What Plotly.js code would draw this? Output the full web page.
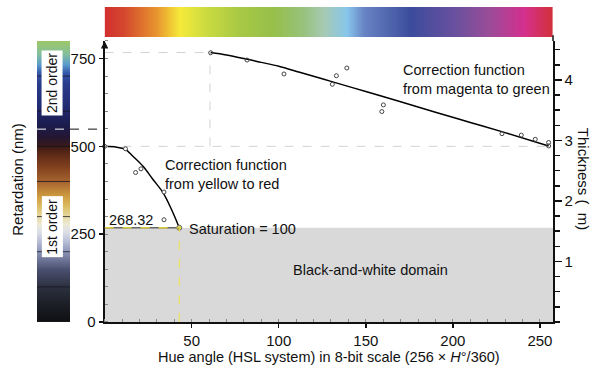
<!DOCTYPE html>
<html>
<head>
<meta charset="utf-8">
<script src="https://cdn.plot.ly/plotly-3.0.1.min.js"></script>
<style>html,body{margin:0;padding:0;background:#fff}#chart{width:600px;height:367px}</style>
</head>
<body>
<div id="chart"></div>
<script>
// ---- data ----
// magenta -> green measurements
var upperX = [60.9, 81.8, 103, 130.8, 133.1, 139.1, 160.1, 159.2, 228.2, 239.3, 247.3, 255, 255];
var upperY = [766.5, 745.7, 706, 676.7, 701, 723, 618, 599, 536, 532, 520, 511, 501];
// magenta -> green correction curve
var upperFitX = [60.9, 70, 80, 90, 100, 112, 130, 150, 170, 190, 210, 230, 255];
var upperFitY = [767, 760, 750, 739, 728, 711, 685, 656, 627, 597, 568, 539, 501];
// yellow -> red measurements
var lowerX = [0, 12, 17.8, 20.9, 34.1, 34.1];
var lowerY = [500, 493, 425.6, 436, 370, 291];
// yellow -> red correction curve
var lowerFitX = [0, 6.9, 11.7, 16.4, 22.2, 27.9, 33.7, 38.5, 42.9];
var lowerFitY = [500, 497.7, 492, 471, 442.6, 405, 367, 319.6, 268.32];
// saturation point
var satX = [42.9];
var satY = [268.32];
var bwLimit = 268.32;
var magentaStart = [60.5, 767];
var levelGrid = 500;
var orderBoundary = 549;

// tick labels
var xTickVals = [50, 100, 150, 200, 250];
var yTickVals = [0, 250, 500, 750];
var thickTickVals = [1, 2, 3, 4];
var xRange = [0, 257.5];
var yRange = [0, 800];
var thickRange = [0, 4.645];

// hue bar (top)
var hueX = [0, 10.7, 29.9, 43, 58.6, 77.8, 96.9, 114, 125.6, 139, 148.6, 175.5, 202.3, 221, 240.6, 257.5];
var hueColors = ['#d2302e','#d4482e','#e8962e','#f6ea3a','#cadb40','#a8c844','#96c04a','#98c27e','#a6cab4','#88c6ec','#6884c4','#3c4c9c','#6c509e','#9c4c98','#d4308e','#d2303a'];

// Michel-Levy retardation bar (left)
var mlR = [0, 50, 100, 150, 200, 230, 255, 280, 300, 330, 360, 400, 440, 480, 500, 525, 560, 620, 680, 710, 735, 765, 800];
var mlColors = ['#0f0f12','#1c1e26','#2c303e','#4a5070','#8a92b6','#b8bed6','#dcdee8','#ece9d6','#e8dcaa','#dcbc62','#cf9c40','#a86630','#82421f','#5a2816','#3a1a16','#261630','#1c1c4c','#222c74','#2a3c8c','#3354a8','#5a9ccc','#86c09a','#9cc66a'];
var mlLines = [100, 200, 300, 400, 500, 600, 700];

// ---- build ----
var hueScale = hueX.map(function(v, i){ return [v / hueX[hueX.length-1], hueColors[i]]; });
var mlScale = mlR.map(function(v, i){ return [v / mlR[mlR.length-1], mlColors[i]]; });

var font = 'Liberation Sans, Arial, Helvetica, sans-serif';

var traces = [
  {type:'heatmap', x: hueX, y:[0,1], z:[hueX, hueX], xaxis:'x', yaxis:'y3',
   colorscale: hueScale, zmin: hueX[0], zmax: hueX[hueX.length-1], zsmooth:'best', showscale:false, hoverinfo:'skip'},
  {type:'heatmap', x:[0,1], y: mlR, z: mlR.map(function(v){return [v, v];}), xaxis:'x2', yaxis:'y',
   colorscale: mlScale, zmin: mlR[0], zmax: mlR[mlR.length-1], zsmooth:'best', showscale:false, hoverinfo:'skip'},
  {type:'scatter', mode:'lines', x: upperFitX, y: upperFitY, line:{color:'#000', width:1.5, shape:'spline'}, hoverinfo:'skip'},
  {type:'scatter', mode:'lines', x: lowerFitX, y: lowerFitY, line:{color:'#000', width:1.5, shape:'spline'}, hoverinfo:'skip'},
  {type:'scatter', mode:'markers', x: upperX, y: upperY, cliponaxis:false,
   marker:{symbol:'circle-open', size:4, color:'#444', line:{width:1}}},
  {type:'scatter', mode:'markers', x: lowerX, y: lowerY, cliponaxis:false,
   marker:{symbol:'circle', size:4, color:'#fff', line:{width:1, color:'#444'}}},
  {type:'scatter', mode:'markers', x: satX, y: satY, cliponaxis:false,
   marker:{symbol:'circle', size:5, color:'#e6df5a', line:{width:1, color:'#666'}}},
  {type:'scatter', mode:'markers', x:[], y:[], yaxis:'y2', showlegend:false}
];

var shapes = [
  {type:'rect', xref:'x', yref:'y', x0: xRange[0], x1: xRange[1], y0: 0, y1: bwLimit, fillcolor:'#d9d9d9', line:{width:0}, layer:'below'},
  {type:'line', xref:'x', yref:'y', x0: 0, x1: 255, y0: levelGrid, y1: levelGrid, line:{color:'#d2d2d2', width:1, dash:'dash'}, layer:'below'},
  {type:'line', xref:'x', yref:'y', x0: 0, x1: magentaStart[0], y0: magentaStart[1], y1: magentaStart[1], line:{color:'#d2d2d2', width:1, dash:'dash'}, layer:'below'},
  {type:'line', xref:'x', yref:'y', x0: magentaStart[0], x1: magentaStart[0], y0: levelGrid, y1: magentaStart[1], line:{color:'#d2d2d2', width:1, dash:'dash'}, layer:'below'},
  {type:'line', xref:'x', yref:'y', x0: satX[0], x1: satX[0], y0: 0, y1: bwLimit, line:{color:'#efe24a', width:1, dash:'dash'}},
  {type:'line', xref:'x', yref:'y', x0: 0, x1: satX[0], y0: bwLimit, y1: bwLimit, line:{color:'#666', width:1.5}},
  {type:'line', xref:'x', yref:'y', x0: 0, x1: satX[0], y0: bwLimit, y1: bwLimit, line:{color:'#d8cc3a', width:1.5, dash:'dash'}},
  {type:'line', xref:'x2', yref:'y', x0: 0, x1: 1, y0: orderBoundary, y1: orderBoundary, line:{color:'#fff', width:1, dash:'dash'}},
  {type:'line', xref:'paper', yref:'y', x0: 0.064, x1: 0.131, y0: orderBoundary, y1: orderBoundary, line:{color:'#111', width:1, dash:'dash'}},
  {type:'line', xref:'paper', yref:'paper', x0: 1, x1: 1, y0: 0.8922, y1: 0.91, line:{color:'#111', width:1.5}}
];
mlLines.forEach(function(v){
  shapes.push({type:'line', xref:'x2', yref:'y', x0:0, x1:1, y0:v, y1:v, line:{color:'rgba(20,20,30,0.75)', width:1}});
});

var aFont = {family: font, size: 14.5, color:'#111'};
var annotations = [
  {xref:'paper', yref:'y', x:-0.0368, y:405, xanchor:'center', yanchor:'middle', text:'Retardation (nm)', textangle:-90, showarrow:false, font:{family:font, size:15, color:'#111'}},
  {xref:'paper', yref:'y', x:1.058, y:405, xanchor:'center', yanchor:'middle', text:'Thickness (  m)', textangle:90, showarrow:false, font:{family:font, size:15, color:'#111'}},
  {xref:'x2', yref:'y', x:0.47, y:679, xanchor:'center', text:'2nd order', textangle:-90, showarrow:false, bgcolor:'#fff', borderpad:2, font:{family:font, size:14, color:'#111'}},
  {xref:'x2', yref:'y', x:0.47, y:270, xanchor:'center', text:'1st order', textangle:-90, showarrow:false, bgcolor:'#fff', borderpad:2, font:{family:font, size:14, color:'#111'}},
  {xref:'x', yref:'y', x:170.3, y:689, text:'Correction function<br>from magenta to green', xanchor:'left', align:'left', showarrow:false, font:aFont},
  {xref:'x', yref:'y', x:33.7, y:419, text:'Correction function<br>from yellow to red', xanchor:'left', align:'left', showarrow:false, font:aFont},
  {xref:'x', yref:'y', x:47.1, y:265.6, text:'Saturation = 100', xanchor:'left', showarrow:false, font:aFont},
  {xref:'x', yref:'y', x:1.3, y:289, text:'268.32', xanchor:'left', showarrow:false, font:aFont},
  {xref:'x', yref:'y', x:152.5, y:149, text:'Black-and-white domain', showarrow:false, font:aFont},
  {xref:'x', yref:'y', x:0, y:yRange[1], ax:0, ay:6, text:'', showarrow:true, arrowhead:2, arrowsize:1, arrowwidth:1.5, arrowcolor:'#111'},
  {xref:'x', yref:'y', x:xRange[1] + 1.2, y:0, ax:-6, ay:0, text:'', showarrow:true, arrowhead:2, arrowsize:1, arrowwidth:1.5, arrowcolor:'#111'}
];

var layout = {
  width:600, height:367,
  margin:{l:37, r:47, t:7, b:44.5},
  paper_bgcolor:'#fff', plot_bgcolor:'rgba(0,0,0,0)',
  showlegend:false,
  font:{family:font, size:15, color:'#111'},
  xaxis:{domain:[0.131, 1], range:xRange, anchor:'y', showline:true, linewidth:2, linecolor:'#111',
    tickmode:'array', tickvals:xTickVals, ticks:'outside', ticklen:4, tickwidth:1.5, tickcolor:'#111',
    minor:{tickmode:'linear', tick0:0, dtick:10, ticks:'inside', ticklen:3, tickcolor:'#888', tickwidth:1},
    showgrid:false, zeroline:false, tickfont:{size:15},
    title:{text:'Hue angle (HSL system) in 8-bit scale (256 × <i>H</i>°/360)', font:{size:14.5}, standoff:3}},
  yaxis:{domain:[0, 0.8922], range:yRange, anchor:'x', showline:true, linewidth:2, linecolor:'#111',
    tickmode:'array', tickvals:yTickVals, ticks:'outside', ticklen:4, tickwidth:1.5, tickcolor:'#111',
    minor:{tickmode:'linear', tick0:0, dtick:50, ticks:'inside', ticklen:3, tickcolor:'#888', tickwidth:1},
    showgrid:false, zeroline:false, tickfont:{size:15}},
  yaxis2:{overlaying:'y', side:'right', anchor:'x', range:thickRange, showline:true, linewidth:1.5, linecolor:'#111',
    tickmode:'array', tickvals:thickTickVals, ticks:'outside', ticklen:7, tickwidth:1.5, tickcolor:'#111',
    minor:{tickmode:'linear', tick0:0, dtick:0.25, ticks:'outside', ticklen:5, tickcolor:'#111', tickwidth:1.5},
    showgrid:false, zeroline:false, tickfont:{size:15}},
  yaxis3:{domain:[0.905, 1], range:[0,1], anchor:'x', visible:false, fixedrange:true},
  xaxis2:{domain:[0, 0.064], range:[0,1], anchor:'y', visible:false},
  shapes: shapes,
  annotations: annotations
};

Plotly.newPlot('chart', traces, layout, {displayModeBar:false, staticPlot:true});
</script>
</body>
</html>
